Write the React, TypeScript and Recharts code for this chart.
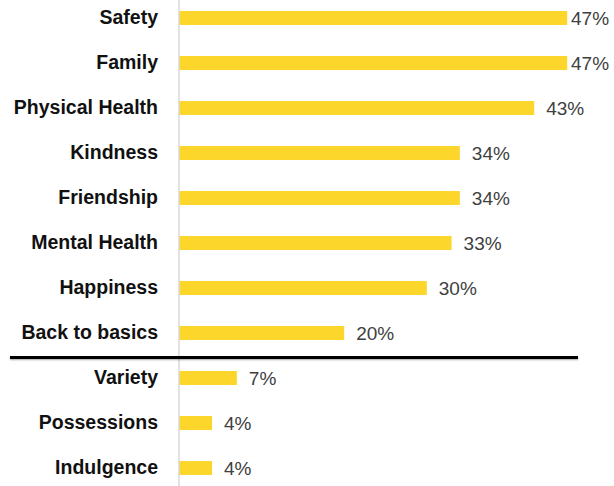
import { BarChart, Bar, XAxis, YAxis, LabelList } from "recharts";

const categories = [
  "Safety",
  "Family",
  "Physical Health",
  "Kindness",
  "Friendship",
  "Mental Health",
  "Happiness",
  "Back to basics",
  "Variety",
  "Possessions",
  "Indulgence",
];
const shares = [47, 47, 43, 34, 34, 33, 30, 20, 7, 4, 4];

const BAR_COLOR = "#FCD62B";
const AXIS_COLOR = "#D9D9D9";
const FONT = "'Liberation Sans', Arial, sans-serif";

const data = categories.map((name, i) => ({ name, value: shares[i] }));

const W = 614;
const H = 495;

function ValueLabel(props: any) {
  const { x, y, width, height, value } = props;
  // Excel pulls labels back in when they would run off the right edge
  const lx = Math.min(x + width + 12, W - 43);
  return (
    <text
      x={lx}
      y={y + height / 2}
      dy="0.36em"
      fill="#404040"
      fontSize={19}
      fontFamily={FONT}
    >
      {`${value}%`}
    </text>
  );
}

export default function App() {
  return (
    <div
      style={{
        position: "fixed",
        left: 0,
        top: 0,
        width: W,
        height: 486,
        overflow: "hidden",
        background: "#fff",
      }}
    >
      <div style={{ position: "absolute", left: 0, top: -5 }}>
        <BarChart
          width={W}
          height={H}
          data={data}
          layout="vertical"
          barSize={14}
          margin={{ top: 0, right: 22, bottom: 0, left: 0 }}
        >
          <XAxis type="number" domain={[0, 50]} hide />
          <YAxis
            type="category"
            dataKey="name"
            width={179}
            tickLine={false}
            tickSize={0}
            tickMargin={21}
            axisLine={{ stroke: AXIS_COLOR, strokeWidth: 1.5 }}
            tick={{
              fill: "#111",
              fontSize: 19.5,
              fontWeight: 700,
              fontFamily: FONT,
            }}
            interval={0}
          />
          <Bar dataKey="value" fill={BAR_COLOR} isAnimationActive={false}>
            <LabelList dataKey="value" content={<ValueLabel />} />
          </Bar>
        </BarChart>
      </div>
      <div
        style={{
          position: "absolute",
          left: 10,
          top: 356,
          width: 568,
          height: 3,
          background: "#000",
          boxShadow: "0 1px 2px rgba(0,0,0,0.35)",
        }}
      />
    </div>
  );
}
